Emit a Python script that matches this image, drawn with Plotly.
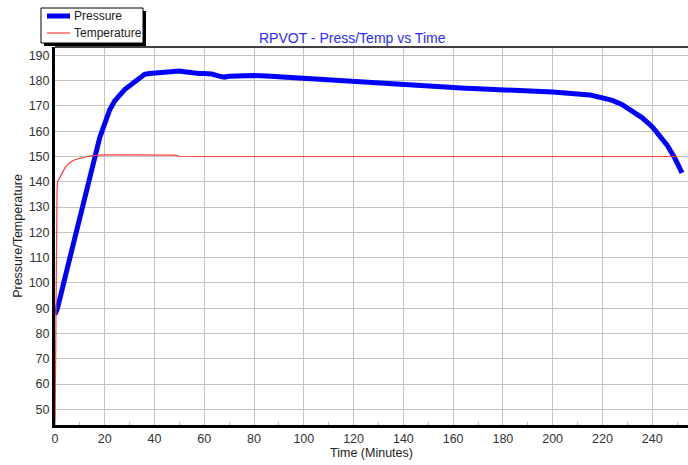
import plotly.graph_objects as go

# ---- data ----
press_time = [0, 1, 2, 3, 4, 5, 6, 8, 10, 12, 14, 16, 18, 20, 22, 24, 26, 28, 30, 32,
              34, 36, 38, 40, 42, 44, 46, 48, 50, 52, 55, 58, 60, 63, 66, 68, 70, 75,
              80, 85, 90, 95, 100, 105, 110, 115, 120, 125, 130, 135, 140, 145, 150,
              155, 160, 165, 170, 175, 180, 185, 190, 195, 200, 205, 210, 215, 220,
              224, 228, 232, 236, 240, 243, 246, 249, 252]
pressure = [87.5, 90, 94, 99, 102, 106, 110, 119, 127, 135, 142, 151.5, 157.5, 163,
            168.5, 172, 174.5, 176.5, 178, 179.5, 181.5, 182.5, 182.8, 183, 183, 183.5,
            183.7, 184, 183.8, 183.5, 183, 182.8, 182.8, 182.6, 181.8, 181.4, 181.7,
            182, 182, 181.8, 181.5, 181.2, 180.8, 180.2, 180, 179.6, 179.3, 179, 178.7,
            178.4, 178.2, 178, 177.7, 177.4, 177.3, 177, 176.8, 176.6, 176.5, 176.3,
            176, 176, 175.5, 175.1, 174.7, 174.3, 173.2, 172.2, 170.5, 168, 165.3,
            161.8, 158.5, 154.5, 149.5, 143.5]

temp_time = [0, 0.2, 0.4, 0.6, 0.8, 1, 1.5, 2, 3, 4, 5, 6, 8, 10, 12, 15, 20, 25,
             30, 35, 40, 45, 48, 50, 55, 60, 80, 100, 150, 200, 250]
temperature = [40, 70, 100, 125, 136, 140, 141, 142, 144, 145.5, 146.7, 147.6, 148.7,
               149.3, 149.8, 150.3, 150.6, 150.6, 150.6, 150.5, 150.4, 150.4, 150.5,
               150.1, 150, 150, 150, 150, 150, 150, 150]

series_names = ["Pressure", "Temperature"]
series_colors = ["#0000ff", "#ff3b3b"]
series_widths = [5, 1.2]

x_ticks = list(range(0, 260, 20))
y_ticks = list(range(50, 200, 10))

W, H = 688, 465
L, R, T, B = 55, 0, 47, 40
PW, PH = W - L - R, H - T - B


def px(xp):  # pixel x -> paper
    return (xp - L) / PW


def py(yp):  # pixel y -> paper
    return (H - B - yp) / PH


fig = go.Figure()
fig.add_trace(go.Scatter(x=press_time, y=pressure, mode="lines", name=series_names[0],
                         line=dict(color=series_colors[0], width=series_widths[0]),
                         showlegend=False))
fig.add_trace(go.Scatter(x=temp_time, y=temperature, mode="lines", name=series_names[1],
                         line=dict(color=series_colors[1], width=series_widths[1]),
                         showlegend=False))

font = "Liberation Sans, Arial, sans-serif"

shapes = [
    # top frame line
    dict(type="line", xref="paper", yref="paper", x0=0, x1=1, y0=1, y1=1,
         line=dict(color="black", width=1.5)),
    # legend shadow
    dict(type="rect", xref="paper", yref="paper",
         x0=px(44), x1=px(146), y0=py(46), y1=py(11),
         fillcolor="black", line=dict(width=0)),
    # legend box
    dict(type="rect", xref="paper", yref="paper",
         x0=px(41), x1=px(143), y0=py(43), y1=py(8),
         fillcolor="white", line=dict(color="black", width=1)),
]
annotations = [
    dict(text="RPVOT - Press/Temp vs Time", xref="paper", yref="paper",
         x=px(352), y=py(28), showarrow=False,
         font=dict(size=14, color="#2b2bff", family=font)),
]
for i, (nm, col, wd) in enumerate(zip(series_names, series_colors, series_widths)):
    yy = 16 + i * 17
    shapes.append(dict(type="line", xref="paper", yref="paper",
                       x0=px(47), x1=px(70), y0=py(yy), y1=py(yy),
                       line=dict(color=col, width=wd)))
    annotations.append(dict(text=nm, xref="paper", yref="paper", x=px(72), y=py(yy),
                            xanchor="left", yanchor="middle", showarrow=False,
                            font=dict(size=12, color="#222222", family=font)))

fig.update_layout(
    width=W, height=H,
    margin=dict(l=L, r=R, t=T, b=B),
    paper_bgcolor="white", plot_bgcolor="white",
    font=dict(family=font, size=12.5, color="#333333"),
    showlegend=False,
    xaxis=dict(range=[0, 254.4], tickvals=x_ticks, ticktext=[str(v) for v in x_ticks],
               showgrid=True, gridcolor="#c4c4c4", gridwidth=1,
               showline=True, linecolor="black", linewidth=3,
               ticks="", zeroline=False, automargin=False,
               title=dict(text="Time (Minutes)", font=dict(size=12.5, color="#222222"),
                          standoff=4),
               minor=dict(dtick=10, ticks="inside", ticklen=3, tickcolor="#bbbbbb",
                          showgrid=False)),
    yaxis=dict(range=[43.8, 193.3], tickvals=y_ticks, ticktext=[str(v) for v in y_ticks],
               showgrid=True, gridcolor="#c4c4c4", gridwidth=1,
               showline=True, linecolor="black", linewidth=3,
               ticks="", zeroline=False, automargin=False,
               title=dict(text="Pressure/Temperature", font=dict(size=12.5, color="#222222"),
                          standoff=4)),
    shapes=shapes,
    annotations=annotations,
)

fig.write_html("out.html", config={"displayModeBar": False},
               post_script="document.body.style.margin='0';"
                           "document.body.style.overflow='hidden';")
